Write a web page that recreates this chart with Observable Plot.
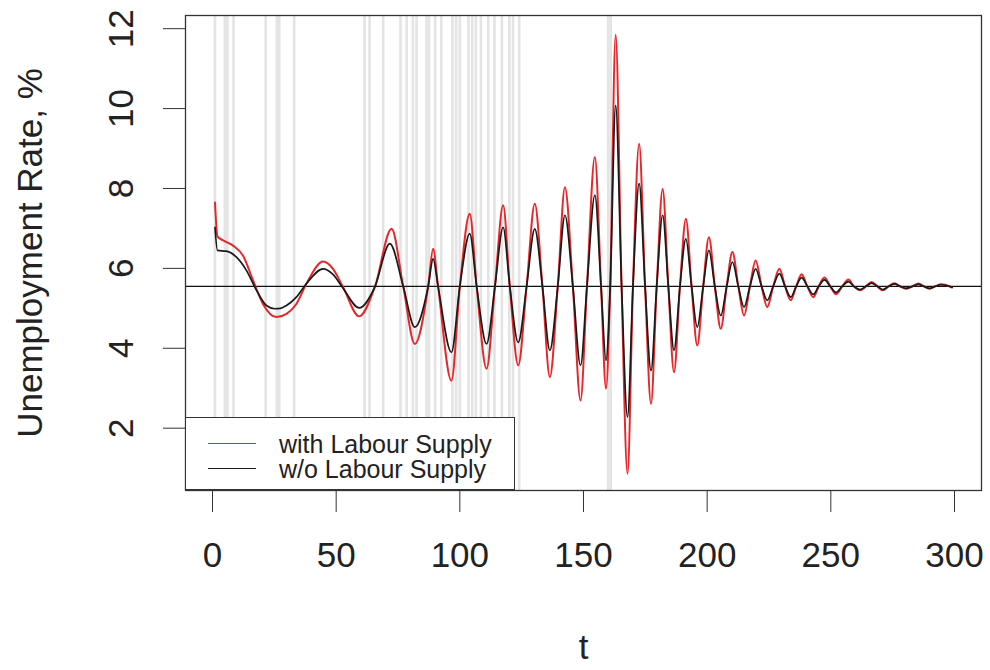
<!DOCTYPE html>
<html>
<head>
<meta charset="utf-8">
<script src="https://cdn.jsdelivr.net/npm/d3@7"></script>
<script src="https://cdn.jsdelivr.net/npm/@observablehq/plot@0.6"></script>
<style>
  html, body { margin: 0; padding: 0; background: #fff; }
  body { font-family: "Liberation Sans", Arial, Helvetica, sans-serif; }
  #wrap { position: relative; width: 990px; height: 670px; }
  #legend { position: absolute; left: 185px; top: 417px; width: 330px; height: 73px;
            box-sizing: border-box; background: #fff; border: 1.3px solid #333; }
  .sw { position: absolute; left: 22px; width: 48px; height: 0; }
  .lt { position: absolute; left: 93px; font-size: 25px; line-height: 22px; color: #222; white-space: nowrap; }
</style>
</head>
<body>
<div id="wrap"></div>
<script>
// ---- data ----
const seriesNames = ["with Labour Supply", "w/o Labour Supply"];
const seriesColors = ["#e8262a", "#1a1a1a"];

// with Labour Supply (red)
const redT = [1, 2, 4.3, 8.3, 12.3, 16.4, 20.4, 25.8, 29.9, 33.9, 38, 44.7, 48.7, 52.8, 59.3, 65.6,
  72.4, 77.1, 81.8, 87.2, 89.2, 91.2, 96.6, 100, 104, 106.8, 110.8, 114.2, 117.5, 120.2, 123.6, 127,
  130.3, 133.4, 136.4, 139.6, 142.5, 145.7, 148.8, 151.4, 154.6, 157.1, 159.1, 160.8, 163, 165.4,
  167.8, 170, 172.5, 174.9, 177.3, 179.6, 182, 184.3, 186.6, 189, 191.4, 193.7, 196, 198.4, 200.7,
  203.1, 205.5, 207.9, 210.2, 212.6, 214.9, 217.3, 219.6, 222, 224.3, 226.7, 229.2, 231.5, 233.8,
  236, 238.2, 240.5, 242.9, 245.1, 247.4, 249.8, 252.1, 254.6, 257.1, 259.3, 261.8, 264.2, 266.5,
  268.8, 271, 273.4, 275.7, 278, 280.4, 283, 285.4, 287.6, 289.9, 292.2, 294.6, 299];
const redU = [7.65, 6.80, 6.70, 6.57, 6.32, 5.70, 5.11, 4.78, 4.86, 5.11, 5.62, 6.17, 5.99, 5.53, 4.80, 5.53,
  6.99, 5.55, 4.11, 5.55, 6.49, 5.55, 3.19, 5.55, 7.37, 5.55, 3.49, 5.55, 7.58, 5.55, 3.57, 5.55,
  7.62, 5.55, 3.28, 5.55, 8.03, 5.55, 2.69, 5.55, 8.79, 5.55, 2.99, 5.55, 11.85, 5.55,
  0.86, 5.55, 9.12, 5.55, 2.61, 5.55, 7.99, 5.55, 3.40, 5.55, 7.24, 5.55, 4.07, 5.55, 6.78,
  5.55, 4.49, 5.55, 6.41, 5.55, 4.82, 5.55, 6.20, 5.55, 5.03, 5.55, 5.99, 5.55, 5.20,
  5.55, 5.85, 5.55, 5.28, 5.55, 5.77, 5.55, 5.35, 5.55, 5.72, 5.55, 5.45, 5.55, 5.66,
  5.55, 5.45, 5.55, 5.63, 5.55, 5.49, 5.55, 5.62, 5.55, 5.49, 5.55, 5.60, 5.52];

// w/o Labour Supply (black)
const blackT = [1, 2, 5.6, 9.7, 13.7, 17.8, 21.8, 25.2, 27.5, 29.9, 33.9, 38, 44.7, 48.7, 52.8, 59.3, 65.6,
  71.7, 77.1, 81.8, 87.2, 89.2, 91.2, 96.6, 100, 104, 106.8, 110.8, 114.2, 117.5, 120.2, 123.6, 127,
  130.3, 133.4, 136.4, 139.6, 142.5, 145.7, 148.8, 151.4, 154.6, 157.1, 159.1, 160.8, 163, 165.4,
  167.8, 170, 172.5, 174.9, 177.3, 179.6, 182, 184.3, 186.6, 189, 191.4, 193.7, 196, 198.4, 200.7,
  203.1, 205.5, 207.9, 210.2, 212.6, 214.9, 217.3, 219.6, 222, 224.3, 226.7, 229.2, 231.5, 233.8,
  236, 238.2, 240.5, 242.9, 245.1, 247.4, 249.8, 252.1, 254.6, 257.1, 259.3, 261.8, 264.2, 266.5,
  268.8, 271, 273.4, 275.7, 278, 280.4, 283, 285.4, 287.6, 289.9, 292.2, 294.6, 299];
const blackU = [7.03, 6.45, 6.43, 6.28, 5.95, 5.45, 5.07, 4.99, 5.00, 5.07, 5.28, 5.62, 5.99, 5.85, 5.50, 5.01, 5.53,
  6.62, 5.55, 4.53, 5.55, 6.24, 5.55, 3.90, 5.55, 6.87, 5.55, 4.11, 5.55, 7.03, 5.55, 4.15, 5.55,
  6.99, 5.55, 3.95, 5.55, 7.33, 5.55, 3.57, 5.55, 7.83, 5.55, 3.70, 5.55, 10.08, 5.55,
  2.28, 5.55, 8.12, 5.55, 3.44, 5.55, 7.33, 5.55, 3.95, 5.55, 6.74, 5.55, 4.53, 5.55, 6.45,
  5.55, 4.82, 5.55, 6.16, 5.55, 5.03, 5.55, 5.99, 5.55, 5.20, 5.55, 5.87, 5.55, 5.28,
  5.55, 5.77, 5.55, 5.35, 5.55, 5.71, 5.55, 5.40, 5.55, 5.67, 5.55, 5.47, 5.55, 5.63,
  5.55, 5.47, 5.55, 5.61, 5.55, 5.50, 5.55, 5.60, 5.55, 5.50, 5.55, 5.59, 5.53];

// periods marked by light grey vertical lines
const shadeT = [1, 5, 6, 8.5, 21.5, 26, 27, 33, 61.5, 63.5, 69, 76, 78.5, 81, 82.5, 86.5, 87.5, 90, 92.5,
  97, 98.5, 100, 103.5, 105, 106.5, 108.5, 111.5, 114, 117, 120, 121.5, 124, 160, 161];

const naturalRate = [5.55];
const xTicks = [0, 50, 100, 150, 200, 250, 300];
const yTicks = [2, 4, 6, 8, 10, 12];
const xTitle = "t";
const yTitle = "Unemployment Rate, %";

// ---- build tables ----
const red = redT.map((t, i) => ({t, u: redU[i]}));
const black = blackT.map((t, i) => ({t, u: blackU[i]}));

const chart = Plot.plot({
  width: 990,
  height: 670,
  marginLeft: 185,
  marginRight: 9,
  marginTop: 15,
  marginBottom: 180,
  style: {fontFamily: '"Liberation Sans", Arial, Helvetica, sans-serif', background: "#fff", color: "#222", overflow: "visible"},
  x: {domain: [-10.92, 310.92]},
  y: {domain: [0.44, 12.33]},
  marks: [
    Plot.ruleX(shadeT, {stroke: "#e4e4e4", strokeWidth: 2.6}),
    Plot.ruleY(naturalRate, {stroke: "#111", strokeWidth: 1.3}),
    Plot.line(red, {x: "t", y: "u", stroke: seriesColors[0], strokeWidth: 2, curve: "monotone-x"}),
    Plot.line(black, {x: "t", y: "u", stroke: seriesColors[1], strokeWidth: 1.7, curve: "monotone-x"}),
    Plot.frame({stroke: "#333", strokeWidth: 1.3}),
    Plot.axisX({ticks: xTicks, tickSize: 22, tickPadding: 30, fontSize: 35, label: null,
                tickFormat: d => String(d), stroke: "#333"}),
    Plot.axisY({ticks: yTicks, tickSize: 22, tickPadding: 31, tickRotate: -90, fontSize: 35, label: null,
                tickFormat: d => String(d), stroke: "#333"}),
    Plot.text([xTitle], {text: d => d, frameAnchor: "bottom", textAnchor: "middle", dy: 168, fontSize: 35, fill: "#222"}),
    Plot.text([yTitle], {text: d => d, frameAnchor: "left", textAnchor: "middle", dx: -155, rotate: -90, fontSize: 35, fill: "#222"})
  ]
});

const wrap = document.getElementById("wrap");
wrap.appendChild(chart);

// legend (inside plot, bottom-left, white background like R's legend())
const lg = document.createElement("div");
lg.id = "legend";
seriesNames.forEach((name, i) => {
  const sw = document.createElement("div");
  sw.className = "sw";
  sw.style.top = (24.5 + i * 25) + "px";
  sw.style.borderTop = "1.6px solid " + seriesColors[i];
  lg.appendChild(sw);
  const tx = document.createElement("div");
  tx.className = "lt";
  tx.style.top = (14.5 + i * 25) + "px";
  tx.textContent = name;
  lg.appendChild(tx);
});
wrap.appendChild(lg);
</script>
</body>
</html>
